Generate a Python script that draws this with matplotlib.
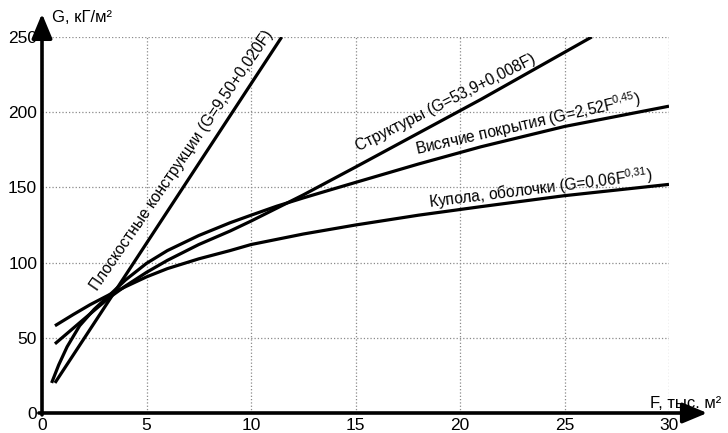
import matplotlib
matplotlib.use('Agg')
import matplotlib.pyplot as plt

plt.rcParams['font.family'] = ['Liberation Sans', 'DejaVu Sans']

# curves (F, thousand m2 -> G, kg/m2)
F_plosk = [0.62, 11.47]
G_plosk = [20, 250]

F_struct = [0.62, 1.8, 3.2, 4, 5, 6, 7.5, 9, 10, 12.5, 15, 21, 26.3]
G_struct = [46, 60, 76.5, 84.5, 93.5, 101.5, 112, 121, 127.6, 145, 163.5, 208.5, 250]

F_vis = [0.46, 0.8, 1.2, 1.8, 2.5, 3.2, 4, 5, 6, 7.5, 9, 10, 11.23, 12.5, 13.78,
         15, 18, 21, 25, 30]
G_vis = [20, 32, 44, 58, 69, 78, 88.5, 99.5, 108, 118, 126.5, 131.5, 137.5, 143,
         148.3, 153.3, 165.5, 177, 190.5, 204]

F_kup = [0.62, 1.5, 2.3, 3.2, 4, 5, 6, 7.5, 9, 10, 12.5, 15, 18, 21, 25, 30]
G_kup = [58, 65.5, 72, 78.5, 84, 90.5, 96, 102.5, 108, 112, 119, 125, 131.5,
         137.2, 144.5, 152]

x_ticks = [0, 5, 10, 15, 20, 25, 30]
y_ticks = [0, 50, 100, 150, 200, 250]

labels = ['Плоскостные конструкции (G=9,50+0,020F)',
          'Структуры (G=53,9+0,008F)',
          'Висячие покрытия (G=2,52F$^{\\mathregular{0{,}45}}$)',
          'Купола, оболочки (G=0,06F$^{\\mathregular{0{,}31}}$)']

fig = plt.figure(figsize=(7.28, 4.33), dpi=100)
ax = fig.add_axes([42/728, 1 - 413/433, 627/728, 376/433])

ax.set_xlim(0, 30)
ax.set_ylim(0, 250)
ax.set_xticks(x_ticks)
ax.set_yticks(y_ticks)
ax.tick_params(length=0, labelsize=12.5, pad=3.5)
ax.grid(True, linestyle=':', color='#8a8a8a', linewidth=0.9)
for s in ax.spines.values():
    s.set_visible(False)

lw = 2.3
ax.plot(F_plosk, G_plosk, color='black', lw=lw, solid_capstyle='butt')
ax.plot(F_struct, G_struct, color='black', lw=lw, solid_capstyle='butt')
ax.plot(F_vis, G_vis, color='black', lw=lw, solid_capstyle='butt')
ax.plot(F_kup, G_kup, color='black', lw=lw, solid_capstyle='butt')

# axis arrows
arr = dict(arrowstyle='-|>,head_length=0.6,head_width=0.25', lw=2.6, color='black',
           mutation_scale=25, shrinkA=0, shrinkB=0)
ax.annotate('', xy=(0, 1.062), xytext=(0, -0.005), xycoords='axes fraction',
            arrowprops=arr, annotation_clip=False)
ax.annotate('', xy=(1.061, 0), xytext=(-0.005, 0), xycoords='axes fraction',
            arrowprops=arr, annotation_clip=False)

# curve labels (anchored at middle of the baseline)
fs = 11.2
ax.text(6.88, 166.0, labels[0], rotation=55.6, rotation_mode='anchor',
        ha='center', va='baseline', fontsize=fs)
ax.text(19.42, 203.6, labels[1], rotation=26.6, rotation_mode='anchor',
        ha='center', va='baseline', fontsize=fs)
ax.text(23.3, 188.6, labels[2], rotation=12.8, rotation_mode='anchor',
        ha='center', va='baseline', fontsize=fs)
ax.text(23.9, 145.6, labels[3], rotation=7.0, rotation_mode='anchor',
        ha='center', va='baseline', fontsize=fs)

# axis titles
fig.text(52/728, 1 - 18/433, 'G, кГ/м²', ha='left', va='center', fontsize=12)
fig.text(650/728, 1 - 404/433, 'F, тыс. м²', ha='left', va='center', fontsize=12)

fig.savefig('out.png', dpi=100)
